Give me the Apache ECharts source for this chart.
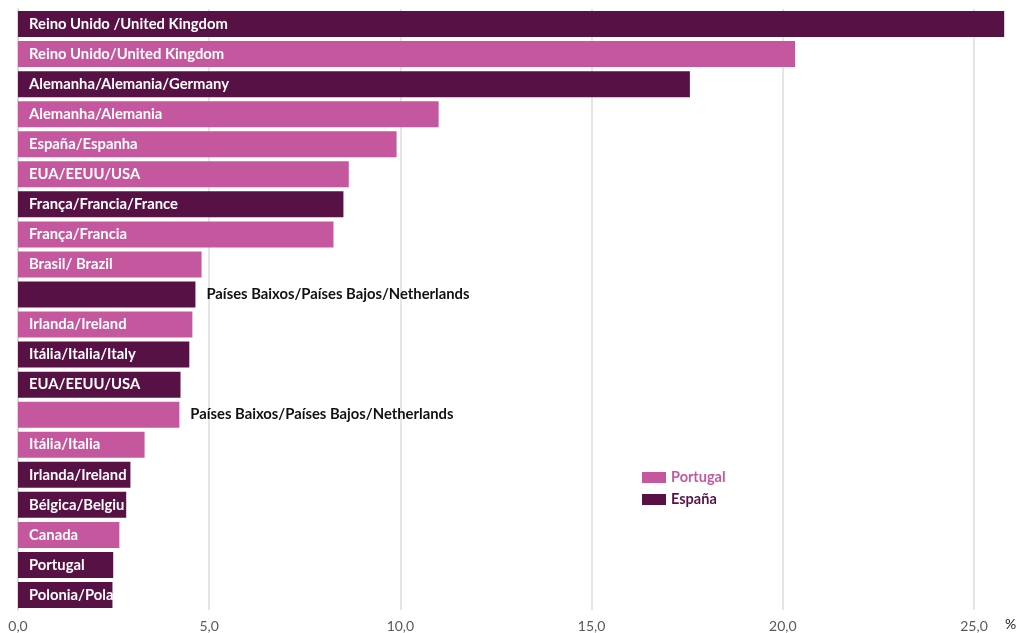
<!DOCTYPE html>
<html><head><meta charset="utf-8">
<script src="https://cdn.jsdelivr.net/npm/echarts@6/dist/echarts.min.js"></script>
<style>html,body{margin:0;padding:0;background:#fff}#c{width:1020px;height:633px}</style>
</head><body><div id="c"></div>
<script>
var categories = [
  "Reino Unido /United Kingdom","Reino Unido/United Kingdom","Alemanha/Alemania/Germany","Alemanha/Alemania",
  "España/Espanha","EUA/EEUU/USA","França/Francia/France","França/Francia","Brasil/ Brazil",
  "Países Baixos/Países Bajos/Netherlands","Irlanda/Ireland","Itália/Italia/Italy","EUA/EEUU/USA",
  "Países Baixos/Países Bajos/Netherlands","Itália/Italia","Irlanda/Ireland","Bélgica/Belgium","Canada",
  "Portugal","Polonia/Poland"
];
var portugal = [null,20.32,null,11.00,9.90,8.65,null,8.25,4.80,null,4.56,null,null,4.22,3.31,null,null,2.65,null,null];
var espana   = [25.79,null,17.57,null,null,null,8.51,null,null,4.64,null,4.48,4.25,null,null,2.94,2.83,null,2.49,2.47];
var outsideRows = [9,13];
var xTicks = [0,5,10,15,20,25];

var PINK = '#C5579F', DARK = '#581145';
var FONT = 'Lato';
var chart = echarts.init(document.getElementById('c'));

function buildData(vals, widths) {
  return vals.map(function (v, i) {
    if (v == null) return '-';
    var item = { value: v };
    if (outsideRows.indexOf(i) >= 0) {
      item.label = { position: 'right', distance: 11, color: '#111' };
    } else if (widths) {
      item.label = { width: widths[i], overflow: 'truncate', ellipsis: '' };
    }
    return item;
  });
}

function makeOption(wP, wE) {
  var labelBase = {
    show: true, position: 'insideLeft', distance: 11, color: '#fff',
    fontFamily: FONT, fontWeight: 'bold', fontSize: 14.8,
    formatter: function (p) { return categories[p.dataIndex]; }
  };
  return {
    animation: false,
    grid: { left: 18, right: 46, top: 9, bottom: 23, containLabel: false },
    legend: {
      orient: 'vertical', left: 637, top: 465, itemWidth: 24, itemHeight: 11, itemGap: 7,
      icon: 'rect',
      data: [
        { name: 'Portugal', textStyle: { color: PINK, fontWeight: 'bold', fontFamily: FONT, fontSize: 14.5 } },
        { name: 'España', textStyle: { color: DARK, fontWeight: 'bold', fontFamily: FONT, fontSize: 14.5 } }
      ],
      textStyle: { fontFamily: FONT, fontWeight: 'bold', fontSize: 14.5 }
    },
    xAxis: {
      type: 'value', min: 0, max: 25, interval: 5,
      name: '%', nameLocation: 'end', nameGap: 31,
      nameTextStyle: { color: '#222', fontFamily: FONT, fontSize: 14, verticalAlign: 'top', padding: [7, 0, 0, 0] },
      axisLine: { show: false }, axisTick: { show: false },
      axisLabel: { color: '#595959', fontFamily: FONT, fontSize: 14, margin: 9,
        formatter: function (v) { return v.toFixed(1).replace('.', ','); } },
      splitLine: { lineStyle: { color: '#dcdcdc', width: 1.5 } }
    },
    yAxis: {
      type: 'category', inverse: true,
      data: categories.map(function (c, i) { return String(i); }),
      axisLine: { show: true, lineStyle: { color: '#d9d9d9', width: 1.5 } },
      axisTick: { show: false }, axisLabel: { show: false }
    },
    series: [
      { name: 'Portugal', type: 'bar', stack: 'a', barWidth: 26, clip: false,
        itemStyle: { color: PINK }, label: labelBase, data: buildData(portugal, wP) },
      { name: 'España', type: 'bar', stack: 'a', barWidth: 26, clip: false,
        itemStyle: { color: DARK }, label: labelBase, data: buildData(espana, wE) }
    ]
  };
}

chart.setOption(makeOption(null, null));
function widthsFor(vals) {
  var x0 = chart.convertToPixel({ xAxisIndex: 0 }, 0);
  return vals.map(function (v) {
    if (v == null) return 0;
    return Math.max(0, chart.convertToPixel({ xAxisIndex: 0 }, v) - x0 - 6);
  });
}
chart.setOption(makeOption(widthsFor(portugal), widthsFor(espana)), true);
</script>
</body></html>
